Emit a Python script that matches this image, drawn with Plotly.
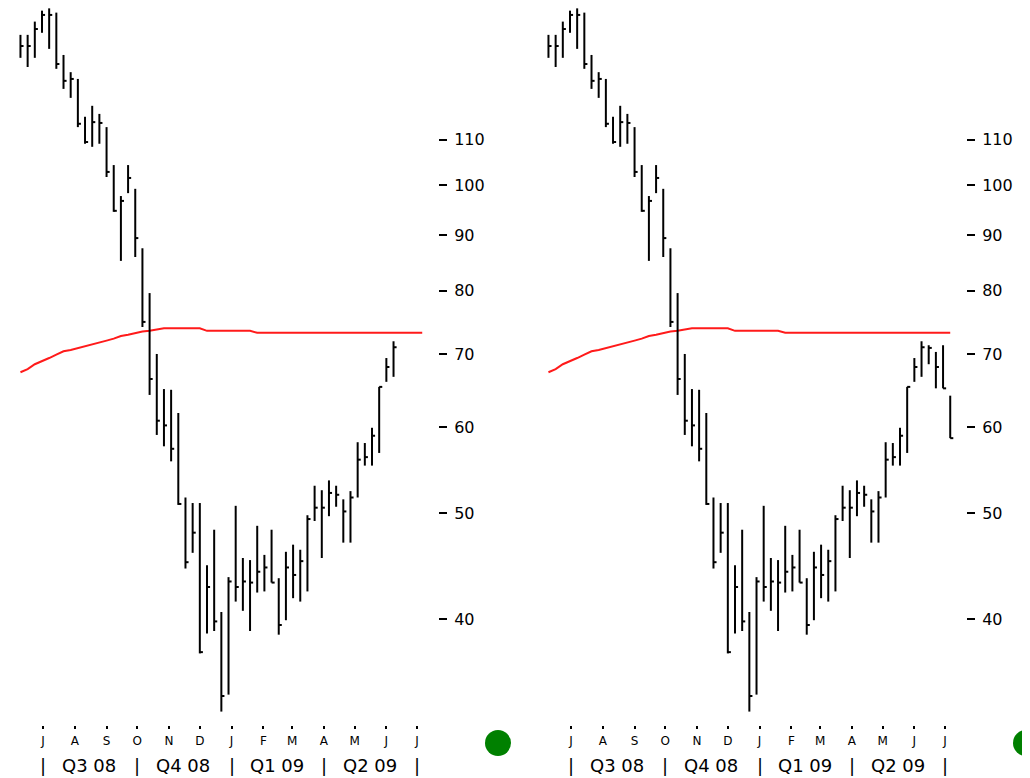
import plotly.graph_objects as go
import pandas as pd

# ---- data ----
week_start = [
    "2008-06-09", "2008-06-16", "2008-06-23", "2008-06-30", "2008-07-07", "2008-07-14",
    "2008-07-21", "2008-07-28", "2008-08-04", "2008-08-11", "2008-08-18", "2008-08-25",
    "2008-09-01", "2008-09-08", "2008-09-15", "2008-09-22", "2008-09-29", "2008-10-06",
    "2008-10-13", "2008-10-20", "2008-10-27", "2008-11-03", "2008-11-10", "2008-11-17",
    "2008-11-24", "2008-12-01", "2008-12-08", "2008-12-15", "2008-12-22", "2008-12-29",
    "2009-01-05", "2009-01-12", "2009-01-19", "2009-01-26", "2009-02-02", "2009-02-09",
    "2009-02-16", "2009-02-23", "2009-03-02", "2009-03-09", "2009-03-16", "2009-03-23",
    "2009-03-30", "2009-04-06", "2009-04-13", "2009-04-20", "2009-04-27", "2009-05-04",
    "2009-05-11", "2009-05-18", "2009-05-25", "2009-06-01", "2009-06-08", "2009-06-15",
    "2009-06-22", "2009-06-29", "2009-07-06",
]
high = [137.3, 137.3, 141.2, 144.5, 145.2, 143.9, 131.6, 126.9, 125.1, 115.5, 118.2, 116.2,
        113.0, 104.3, 97.7, 104.3, 99.2, 87.5, 79.6, 70.0, 65.0, 64.9, 61.8, 51.7,
        51.1, 51.1, 44.8, 48.3, 40.6, 43.7, 50.8, 45.5, 45.3, 48.7, 45.8, 48.3,
        43.6, 46.1, 46.8, 46.3, 49.8, 53.0, 52.5, 53.6, 53.0, 51.5, 52.4, 58.1,
        58.0, 59.9, 65.3, 69.4, 71.9, 71.3, 70.3, 71.3, 64.1]
low = [130.8, 128.3, 130.8, 137.9, 133.3, 127.8, 122.5, 120.2, 113.0, 109.1, 108.4, 109.1,
       101.7, 94.5, 85.2, 98.3, 85.9, 74.1, 64.2, 59.0, 57.6, 55.8, 50.9, 44.5,
       46.0, 37.2, 38.8, 39.0, 32.9, 34.1, 41.5, 40.7, 39.0, 42.3, 42.4, 43.2,
       38.7, 39.9, 41.8, 41.5, 42.4, 49.2, 45.5, 49.7, 50.7, 47.0, 47.0, 51.7,
       55.3, 55.3, 56.8, 66.0, 66.7, 68.5, 65.1, 65.1, 58.6]
close = [134.1, 134.1, 139.0, 143.2, 143.2, 129.1, 124.6, 125.1, 113.8, 109.5, 114.2, 114.0,
         102.8, 94.7, 96.7, 101.5, 89.4, 74.9, 66.4, 60.8, 60.2, 57.3, 51.0, 45.1,
         48.0, 37.3, 42.8, 39.8, 34.0, 43.3, 42.8, 43.3, 43.2, 44.2, 44.6, 43.2,
         39.5, 44.6, 43.9, 45.2, 49.4, 50.6, 50.6, 52.2, 52.0, 50.2, 51.7, 56.0,
         56.3, 58.9, 65.3, 68.1, 71.0, 70.9, 68.1, 65.1, 58.6]
moving_avg = [67.35, 67.8, 68.5, 68.9, 69.4, 69.9, 70.4, 70.6, 70.9, 71.1, 71.5, 71.8,
              72.0, 72.3, 72.7, 72.9, 73.2, 73.4, 73.5, 73.7, 73.9, 73.9, 73.9, 73.9,
              73.9, 73.9, 73.5, 73.5, 73.5, 73.5, 73.5, 73.5, 73.5, 73.2, 73.2, 73.2,
              73.2, 73.2, 73.2, 73.2, 73.2, 73.2, 73.2, 73.2, 73.2, 73.2, 73.2, 73.2,
              73.2, 73.2, 73.2, 73.2, 73.2, 73.2, 73.2, 73.2, 73.2]
left_bar_count = 53          # left panel is the earlier snapshot
right_bar_count = 57

month_starts = ["2008-07-01", "2008-08-01", "2008-09-01", "2008-10-01", "2008-11-01",
                "2008-12-01", "2009-01-01", "2009-02-01", "2009-03-01", "2009-04-01",
                "2009-05-01", "2009-06-01", "2009-07-01"]
month_labels = ["J", "A", "S", "O", "N", "D", "J", "F", "M", "A", "M", "J", "J"]
quarter_starts = ["2008-07-01", "2008-10-01", "2009-01-01", "2009-04-01", "2009-07-01"]
quarter_mids = ["2008-08-15", "2008-11-15", "2009-02-14", "2009-05-16"]
quarter_labels = ["Q3 08", "Q4 08", "Q1 09", "Q2 09"]
y_ticks = [40, 50, 60, 70, 80, 90, 100, 110]

# ---- layout constants (page body has an 8px margin) ----
OFF = 8
W, H = 1030 - OFF, 778 - OFF


def px(xr):
    return (xr - OFF) / W


def py(yr):
    return 1 - (yr - OFF) / H


PLOT_TOP, PLOT_BOTTOM = 8, 725
x_range = ["2008-05-29 19:00", "2009-07-13 14:00"]
y_range = [1.5049, 2.1623]
panels = [
    dict(n=left_bar_count, x0=10, x1=430, axis_x=438, xa="x", ya="y", dot=498),
    dict(n=right_bar_count, x0=538, x1=958, axis_x=966, xa="x2", ya="y2", dot=1026),
]

dates = pd.to_datetime(week_start)
tick_len = pd.Timedelta(days=3)

fig = go.Figure()
for p in panels:
    n = p["n"]
    bx, by, tx, ty = [], [], [], []
    for d, h, l, c in zip(dates[:n], high[:n], low[:n], close[:n]):
        bx += [d, d, None]
        by += [l, h, None]
        tx += [d, d + tick_len, None]
        ty += [c, c, None]
    fig.add_trace(go.Scatter(x=dates, y=moving_avg, mode="lines",
                             line=dict(color="#ff1a1a", width=2),
                             xaxis=p["xa"], yaxis=p["ya"], hoverinfo="skip"))
    fig.add_trace(go.Scatter(x=bx, y=by, mode="lines", line=dict(color="black", width=2),
                             xaxis=p["xa"], yaxis=p["ya"], connectgaps=False))
    fig.add_trace(go.Scatter(x=tx, y=ty, mode="lines", line=dict(color="black", width=2),
                             xaxis=p["xa"], yaxis=p["ya"], connectgaps=False))

ydom = [py(PLOT_BOTTOM), py(PLOT_TOP)]
axis_font = dict(family="DejaVu Sans", size=16, color="black")
q_font = dict(family="DejaVu Sans", size=18, color="black")
layout = dict(
    width=W, height=H, margin=dict(l=0, r=0, t=0, b=0, pad=0),
    paper_bgcolor="white", plot_bgcolor="white", showlegend=False,
    shapes=[], annotations=[],
)
for i, p in enumerate(panels):
    sfx = "" if i == 0 else str(i + 1)
    layout["xaxis" + sfx] = dict(
        domain=[px(p["x0"]), px(p["x1"])], anchor=p["ya"], type="date", range=x_range,
        tickvals=month_starts, ticktext=month_labels, ticks="outside", ticklen=3,
        tickwidth=2, tickcolor="black", showgrid=False, zeroline=False, showline=False,
        tickfont=dict(family="DejaVu Sans", size=12, color="black"), ticklabelstandoff=2,
    )
    layout["yaxis" + sfx] = dict(
        domain=ydom, type="log", range=y_range, anchor="free", position=px(p["axis_x"]),
        side="right", tickvals=y_ticks, ticktext=[str(v) for v in y_ticks],
        ticks="outside", ticklen=8, tickwidth=2, tickcolor="black", showgrid=False,
        zeroline=False, showline=False, tickfont=axis_font, ticklabelstandoff=4,
    )
    for qd, ql in zip(quarter_mids, quarter_labels):
        layout["annotations"].append(dict(x=qd, y=py(765), xref=p["xa"], yref="paper",
                                          text=ql, showarrow=False, yanchor="middle",
                                          font=q_font))
    for qd in quarter_starts:
        layout["annotations"].append(dict(x=qd, y=py(765), xref=p["xa"], yref="paper",
                                          text="|", showarrow=False, yanchor="middle",
                                          font=q_font))
    cx = p["dot"]
    layout["shapes"].append(dict(type="circle", xref="paper", yref="paper",
                                 x0=px(cx - 13), x1=px(cx + 13),
                                 y0=py(756), y1=py(730),
                                 fillcolor="#008000", line=dict(width=0)))

fig.update_layout(**layout)
fig.write_html("out.html")
